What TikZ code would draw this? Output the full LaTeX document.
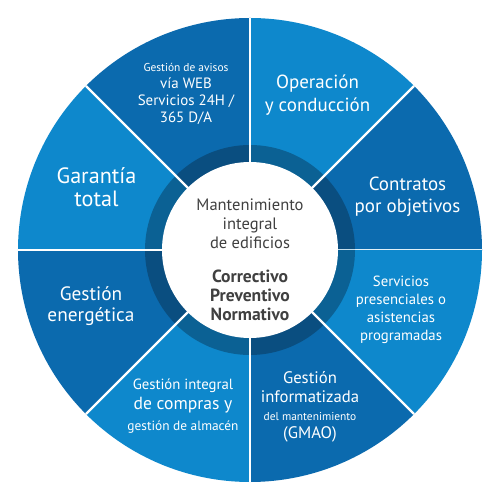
\documentclass[tikz,border=0pt]{standalone}
\usepackage{fontspec}
\setmainfont{PT Sans}
\usetikzlibrary{positioning}

\definecolor{seglight}{HTML}{0E88CC}
\definecolor{segdark}{HTML}{0B6AAE}
\definecolor{ringdark}{HTML}{0A4E80}
\definecolor{ringmid}{HTML}{0B6194}
\definecolor{hubgray}{HTML}{404040}

\newcommand{\fs}[2]{\fontsize{#1}{#2}\selectfont}

\begin{document}
\begin{tikzpicture}[
segtext/.style={text=white, align=center, font=\fs{10.8}{13}},
hubtext/.style={text=hubgray, align=center, font=\fs{9.4}{10.8}},
sep/.style={white, line width=1.4pt}
]
\useasboundingbox (-5,-5) rectangle (5,5);

% sectors and inner ring
\foreach \k/\outer/\inner in {0/segdark/ringdark, 1/seglight/ringmid,
  2/segdark/ringdark, 3/seglight/ringmid, 4/segdark/ringdark,
  5/seglight/ringmid, 6/segdark/ringdark, 7/seglight/ringmid} {
  \pgfmathsetmacro{\a}{45*\k}
  \pgfmathsetmacro{\b}{45*\k+45}
  \fill[\outer] (0,0) -- (\a:4.64) arc[start angle=\a, end angle=\b, radius=4.64] -- cycle;
  \fill[\inner] (0,0) -- (\a:2.1) arc[start angle=\a, end angle=\b, radius=2.1] -- cycle;
  \draw[sep] (0,0) -- (\a:4.64);
}
\node[circle, fill=white, minimum size=3.52cm, inner sep=0pt] (hub) at (0,0) {};

% hub texts
\node[hubtext] (scope) at (0,0.52) {Mantenimiento\\integral\\de edificios};
\node[hubtext, font=\fs{10}{10.8}\bfseries] (kinds) at (0,-0.9) {Correctivo\\Preventivo\\Normativo};

% sector texts
\node[segtext] (oper) at (1.35,3.09) {Operación\\y conducción};
\node[segtext, font=\fs{10.8}{12.5}] (contr) at (3.15,1.07) {Contratos\\por objetivos};
\node[segtext, font=\fs{8.4}{10.2}] (serv) at (3.02,-1.2) {Servicios\\presenciales o\\asistencias\\programadas};
\node[segtext, font=\fs{9.5}{10.4}] (gmao) at (1.2,-3.14) {Gestión\\informatizada\\{\fs{6.5}{10.4}del mantenimiento}\\(GMAO)};
\node[segtext, font=\fs{10}{11.8}] (compr) at (-1.34,-3.12) {{\fs{8.4}{11.8}Gestión integral}\\de compras y\\{\fs{7.6}{11.8}gestión de almacén}};
\node[segtext, font=\fs{11}{12}] (energ) at (-3.18,-1.12) {Gestión\\energética};
\node[segtext, font=\fs{12.6}{13}] (garan) at (-3.07,1.25) {Garantía\\total};
\node[segtext, font=\fs{8.5}{9.6}] (avis) at (-1.28,3.12) {{\fs{6.5}{9.6}Gestión de avisos}\\vía WEB\\Servicios 24H /\\365 D/A};
\end{tikzpicture}
\end{document}
